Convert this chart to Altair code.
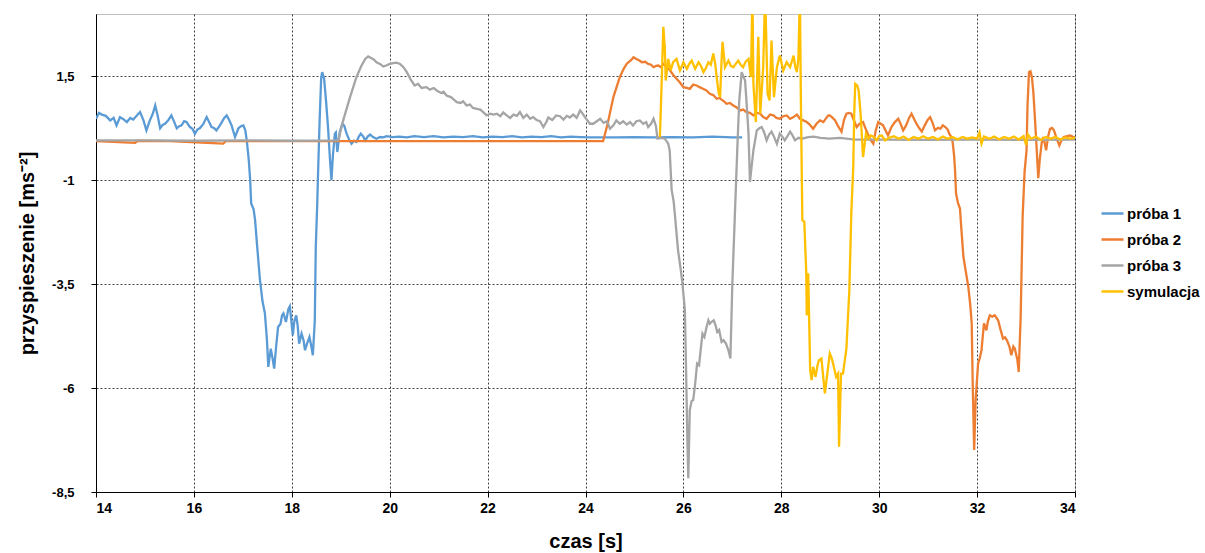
import altair as alt
import pandas as pd

names = ["próba 1", "próba 2", "próba 3", "symulacja"]
colors = ["#5B9BD5", "#ED7D31", "#A5A5A5", "#FFC000"]

t1 = [14.00,14.06,14.12,14.20,14.29,14.36,14.42,14.49,14.56,14.63,14.70,14.76,14.83,14.90,14.97,15.03,15.10,15.16,15.21,15.26,
      15.31,15.36,15.41,15.48,15.54,15.60,15.65,15.70,15.75,15.80,15.85,15.92,15.97,16.02,16.07,16.12,16.19,16.26,16.31,16.36,
      16.41,16.46,16.52,16.57,16.62,16.67,16.72,16.77,16.84,16.91,16.96,17.01,17.05,17.08,17.12,17.15,17.17,17.22,17.25,17.30,
      17.35,17.40,17.45,17.49,17.52,17.57,17.61,17.64,17.68,17.72,17.77,17.80,17.83,17.88,17.93,17.96,18.02,18.05,18.09,18.12,
      18.15,18.20,18.24,18.27,18.32,18.36,18.40,18.43,18.47,18.49,18.52,18.54,18.57,18.60,18.62,18.66,18.70,18.74,18.78,18.81,
      18.84,18.88,18.90,18.93,18.98,19.03,19.07,19.12,19.17,19.22,19.27,19.32,19.37,19.41,19.46,19.50,19.55,19.60,19.66,19.73,
      19.80,19.87,19.94,20.05,20.20,20.35,20.50,20.70,20.90,21.10,21.30,21.50,21.70,21.90,22.10,22.30,22.50,22.70,22.90,23.10,
      23.30,23.50,23.70,23.90,24.10,24.30,24.60,25.00,25.40,25.80,26.20,26.60,27.00,27.20]
v1 = [0.48,0.62,0.58,0.55,0.44,0.50,0.32,0.52,0.47,0.40,0.50,0.46,0.55,0.64,0.44,0.20,0.44,0.60,0.80,0.55,
      0.25,0.33,0.36,0.45,0.56,0.40,0.25,0.30,0.32,0.42,0.40,0.28,0.24,0.12,0.22,0.25,0.35,0.52,0.40,0.28,
      0.26,0.20,0.30,0.40,0.50,0.56,0.45,0.32,0.04,0.25,0.30,0.32,0.20,-0.04,-0.50,-1.00,-1.56,-1.70,-1.96,-2.70,
      -3.40,-3.90,-4.20,-4.80,-5.49,-5.05,-5.30,-5.53,-5.00,-4.53,-4.45,-4.25,-4.20,-4.41,-4.10,-4.03,-4.73,-4.40,-4.25,-4.50,
      -4.93,-4.69,-4.85,-5.09,-4.90,-4.77,-5.00,-5.21,-4.37,-2.60,-1.56,-0.68,0.50,1.45,1.60,1.45,0.90,0.28,-0.50,-1.00,
      -0.40,0.12,0.15,-0.32,0.17,0.35,0.32,0.12,-0.02,-0.12,-0.05,-0.08,0.05,0.12,0.05,-0.04,0.05,0.10,0.04,0.00,
      0.04,0.03,0.06,0.04,0.05,0.03,0.06,0.04,0.06,0.03,0.05,0.04,0.06,0.03,0.05,0.04,0.06,0.03,0.05,0.04,
      0.06,0.03,0.05,0.04,0.03,0.03,0.03,0.04,0.03,0.04,0.03,0.05,0.03,0.03]

t2 = [14.00,14.80,14.85,15.50,16.60,16.65,18.00,19.00,20.00,21.00,22.00,23.00,24.00,24.36,24.45,24.57,24.70,24.78,24.84,24.94,
      24.98,25.04,25.10,25.15,25.22,25.28,25.34,25.39,25.44,25.49,25.54,25.59,25.66,25.73,25.80,25.86,25.93,26.00,26.07,26.13,
      26.20,26.27,26.33,26.40,26.47,26.54,26.61,26.68,26.74,26.78,26.83,26.88,26.95,27.02,27.09,27.16,27.22,27.29,27.36,27.43,
      27.50,27.57,27.63,27.70,27.77,27.84,27.90,27.97,28.04,28.11,28.18,28.25,28.32,28.38,28.45,28.52,28.58,28.65,28.72,28.79,
      28.86,28.92,28.96,28.99,29.05,29.10,29.16,29.23,29.28,29.33,29.38,29.43,29.48,29.54,29.60,29.67,29.72,29.78,29.83,29.88,
      29.93,29.98,30.03,30.08,30.13,30.18,30.25,30.32,30.39,30.44,30.49,30.55,30.61,30.66,30.71,30.76,30.82,30.87,30.93,30.99,
      31.04,31.09,31.14,31.20,31.25,31.30,31.35,31.40,31.43,31.47,31.50,31.53,31.55,31.57,31.61,31.65,31.68,31.72,31.77,31.82,
      31.86,31.89,31.91,31.94,31.97,32.02,32.05,32.09,32.12,32.14,32.19,32.22,32.26,32.31,32.36,32.43,32.48,32.53,32.57,32.61,
      32.66,32.70,32.74,32.77,32.82,32.85,32.89,32.93,32.97,33.01,33.03,33.06,33.09,33.12,33.15,33.18,33.21,33.25,33.28,33.32,
      33.35,33.38,33.41,33.45,33.49,33.53,33.57,33.62,33.68,33.72,33.77,33.84,33.90,33.95,34.00]
v2 = [-0.06,-0.10,-0.05,-0.06,-0.12,-0.06,-0.06,-0.06,-0.06,-0.06,-0.06,-0.06,-0.06,-0.06,0.35,1.00,1.48,1.68,1.80,1.90,
      1.96,1.92,1.88,1.84,1.85,1.80,1.78,1.72,1.75,1.76,1.72,1.80,1.72,1.64,1.52,1.44,1.35,1.24,1.22,1.20,
      1.30,1.28,1.24,1.20,1.16,1.08,1.05,0.96,0.98,0.94,0.90,0.84,0.86,0.80,0.75,0.68,0.70,0.64,0.62,0.56,
      0.62,0.60,0.52,0.48,0.58,0.56,0.50,0.48,0.54,0.56,0.48,0.52,0.58,0.48,0.44,0.40,0.34,0.24,0.36,0.44,
      0.40,0.50,0.56,0.56,0.50,0.44,0.30,0.17,0.45,0.60,0.62,0.60,0.45,0.28,0.36,0.40,0.25,0.08,-0.04,-0.12,
      0.20,0.40,0.36,0.32,0.20,0.08,0.28,0.40,0.48,0.35,0.20,0.32,0.50,0.60,0.48,0.36,0.25,0.17,0.32,0.45,
      0.52,0.38,0.20,0.26,0.24,0.32,0.28,0.22,0.12,0.05,-0.08,-0.40,-0.76,-1.32,-1.55,-1.68,-2.20,-2.84,-3.20,-3.56,
      -4.00,-4.44,-5.88,-7.49,-6.29,-5.41,-5.30,-5.09,-4.70,-4.44,-4.61,-4.40,-4.25,-4.28,-4.25,-4.37,-4.60,-4.81,-4.78,-4.85,
      -5.00,-5.21,-5.00,-5.05,-5.30,-5.61,-4.29,-1.88,-0.80,-0.28,0.80,1.60,1.62,1.48,1.10,0.52,-0.10,-0.95,-0.50,-0.10,
      0.04,-0.10,-0.28,0.05,0.24,0.26,0.20,0.02,-0.16,-0.05,0.04,0.06,0.08,0.05,0.03]

t3 = [14.00,15.00,16.00,17.00,18.00,18.95,19.05,19.19,19.32,19.42,19.50,19.56,19.62,19.68,19.73,19.80,19.87,19.93,20.00,20.07,
      20.14,20.21,20.28,20.35,20.43,20.51,20.58,20.65,20.75,20.82,20.90,20.96,21.05,21.10,21.16,21.25,21.30,21.37,21.45,21.50,
      21.57,21.64,21.70,21.78,21.85,21.91,21.98,22.05,22.12,22.19,22.26,22.32,22.39,22.46,22.53,22.60,22.66,22.73,22.80,22.87,
      22.93,23.00,23.07,23.14,23.20,23.24,23.32,23.40,23.48,23.55,23.62,23.68,23.75,23.82,23.89,23.92,24.00,24.09,24.16,24.23,
      24.30,24.37,24.44,24.50,24.57,24.63,24.70,24.77,24.84,24.91,24.97,25.04,25.11,25.18,25.24,25.28,25.34,25.39,25.44,25.47,
      25.55,25.62,25.69,25.72,25.76,25.80,25.83,25.89,25.94,25.98,26.03,26.06,26.08,26.10,26.13,26.17,26.20,26.24,26.28,26.32,
      26.36,26.39,26.43,26.47,26.51,26.54,26.57,26.62,26.66,26.69,26.73,26.78,26.82,26.87,26.92,26.96,27.00,27.05,27.10,27.14,
      27.19,27.26,27.30,27.33,27.36,27.40,27.43,27.50,27.55,27.60,27.65,27.70,27.75,27.80,27.85,27.91,27.97,28.02,28.07,28.12,
      28.18,28.23,28.28,28.35,28.42,28.55,28.66,28.80,28.98,29.20,29.50,30.00,31.00,32.00,33.00,34.00]
v3 = [-0.04,-0.04,-0.05,-0.04,-0.05,-0.04,0.44,1.00,1.48,1.75,1.92,1.98,1.94,1.90,1.84,1.80,1.74,1.76,1.80,1.82,
      1.83,1.80,1.72,1.60,1.42,1.28,1.32,1.22,1.24,1.18,1.22,1.16,1.10,1.13,1.04,1.00,0.95,0.88,0.86,0.90,
      0.80,0.82,0.74,0.72,0.70,0.64,0.56,0.60,0.58,0.60,0.54,0.63,0.56,0.50,0.58,0.55,0.64,0.50,0.58,0.48,
      0.52,0.45,0.42,0.28,0.40,0.51,0.45,0.56,0.54,0.46,0.55,0.51,0.58,0.50,0.68,0.64,0.50,0.36,0.36,0.42,
      0.48,0.38,0.42,0.24,0.32,0.44,0.36,0.42,0.34,0.40,0.32,0.42,0.44,0.36,0.40,0.28,0.36,0.48,0.30,0.00,
      0.02,0.00,-0.12,-0.28,-1.24,-1.50,-1.88,-2.68,-3.10,-3.48,-4.12,-5.89,-7.20,-8.17,-6.53,-6.30,-6.29,-5.90,-5.41,-5.45,
      -5.00,-4.69,-4.77,-4.55,-4.37,-4.45,-4.41,-4.37,-4.50,-4.65,-4.60,-4.89,-4.85,-4.93,-5.09,-5.29,-3.48,-1.88,-0.28,0.90,
      1.60,1.40,0.70,0.12,-1.04,-0.60,-0.28,0.20,0.25,0.28,0.15,-0.04,0.10,0.17,0.05,-0.12,0.12,0.05,-0.04,0.05,
      0.17,0.08,-0.04,0.02,0.00,0.04,0.05,0.02,0.00,0.02,-0.02,-0.02,-0.03,-0.02,-0.03,-0.02]

t4 = [25.52,25.56,25.59,25.62,25.64,25.69,25.74,25.79,25.86,25.93,26.00,26.07,26.12,26.17,26.24,26.31,26.36,26.41,26.46,26.51,
      26.56,26.61,26.65,26.68,26.72,26.75,26.78,26.80,26.85,26.92,26.97,27.02,27.07,27.12,27.17,27.22,27.27,27.33,27.38,27.41,
      27.43,27.48,27.53,27.57,27.63,27.67,27.72,27.76,27.80,27.85,27.91,27.97,28.04,28.11,28.18,28.25,28.29,28.32,28.35,28.38,
      28.40,28.42,28.43,28.47,28.51,28.52,28.55,28.59,28.62,28.65,28.70,28.74,28.77,28.82,28.85,28.89,28.94,28.99,29.02,29.05,
      29.12,29.16,29.18,29.22,29.26,29.33,29.39,29.43,29.47,29.49,29.51,29.55,29.58,29.62,29.67,29.73,29.78,29.83,29.88,29.95,
      30.00,30.05,30.12,30.20,30.30,30.40,30.50,30.60,30.70,30.80,30.90,31.00,31.10,31.20,31.30,31.40,31.50,31.60,31.70,31.80,
      31.90,32.00,32.05,32.09,32.14,32.25,32.35,32.45,32.55,32.65,32.75,32.85,32.95,33.00,33.04,33.10,33.20,33.30,33.40,33.50,
      33.60,33.70,33.80,33.90,34.00]
v4 = [0.04,1.50,2.69,2.20,1.40,1.92,1.64,1.84,1.92,1.64,1.84,1.68,1.80,1.88,1.68,1.84,1.75,1.60,1.70,1.84,
      1.78,2.05,1.80,1.48,1.10,1.00,1.90,2.33,1.72,1.88,1.75,1.72,1.80,1.88,1.78,1.72,1.85,1.92,1.48,3.50,
      1.32,0.40,2.45,0.60,1.72,3.50,1.08,0.92,2.36,1.00,1.72,2.00,1.64,1.84,1.72,2.00,1.70,1.60,1.96,3.50,
      0.92,-1.00,-1.96,-2.00,-3.24,-4.25,-3.24,-5.57,-5.81,-5.49,-5.73,-5.45,-5.33,-5.29,-5.65,-6.13,-5.65,-5.17,-5.25,-5.37,
      -5.73,-5.65,-7.41,-5.65,-5.65,-5.05,-3.64,-1.80,-0.68,0.60,1.32,1.28,1.16,0.60,-0.44,0.12,0.00,0.08,0.05,-0.04,
      0.06,0.08,-0.04,0.02,0.06,0.00,0.05,-0.03,0.04,0.00,0.06,0.00,0.04,-0.02,0.05,0.00,0.04,-0.02,0.04,0.00,
      0.03,0.00,0.15,-0.12,0.05,0.00,0.05,-0.02,0.04,0.00,0.05,-0.02,0.06,-0.15,0.10,0.00,0.05,-0.03,0.04,0.00,
      0.04,-0.02,0.03,0.00,0.02]

series = [(names[0], t1, v1), (names[1], t2, v2), (names[2], t3, v3), (names[3], t4, v4)]

color_scale = alt.Scale(domain=names, range=colors)
legend = alt.Legend(
    title=None, orient="none", legendX=1004, legendY=187,
    symbolType="stroke", symbolSize=484, symbolStrokeWidth=2.5,
    labelFont="Liberation Sans", labelFontSize=15, labelFontWeight="bold",
    labelColor="#000000", rowPadding=5, labelOffset=2,
)

x_axis = alt.Axis(
    values=list(range(14, 35, 2)), title="czas [s]",
    titleFont="Liberation Sans", titleFontSize=20, titleFontWeight="bold", titleColor="#000",
    titleY=49, titleBaseline="middle",
    labelFont="Liberation Sans", labelFontSize=14, labelFontWeight="bold", labelColor="#000",
    labelPadding=4, tickSize=5, tickColor="#000", domainColor="#000", domainWidth=1,
    grid=True, gridColor="#000", gridDash=[2, 2], gridOpacity=0.75, gridWidth=1,
)
y_axis = alt.Axis(
    values=[-8.5, -6, -3.5, -1, 1.5], title="przyspieszenie [ms⁻²]",
    labelExpr="replace(toString(datum.value), '.', ',')",
    titleFont="Liberation Sans", titleFontSize=20, titleFontWeight="bold", titleColor="#000",
    titleX=-69, titleY=239, titleAngle=-90, titleAlign="center", titleBaseline="middle",
    labelFont="Liberation Sans", labelFontSize=13, labelFontWeight="bold", labelColor="#000",
    labelPadding=17, tickSize=5, tickColor="#000", domainColor="#000", domainWidth=1,
    grid=True, gridColor="#000", gridDash=[2, 2], gridOpacity=0.75, gridWidth=1,
)

layers = []
for name, ts, vs in series:
    df = pd.DataFrame({"t": ts, "a": vs, "seria": name})
    layers.append(
        alt.Chart(df).mark_line(strokeWidth=2.3, clip=True).encode(
            x=alt.X("t:Q", scale=alt.Scale(domain=[14, 34], nice=False, zero=False), axis=x_axis),
            y=alt.Y("a:Q", scale=alt.Scale(domain=[-8.5, 3.0], nice=False, zero=False), axis=y_axis),
            color=alt.Color("seria:N", scale=color_scale, legend=legend),
        )
    )

chart = alt.layer(*layers).properties(
    width=979, height=478,
    autosize=alt.AutoSizeParams(type="none"),
    padding={"left": 96, "top": 14, "right": 130, "bottom": 61},
    background="white",
).configure_view(stroke="#BFBFBF", strokeWidth=1)

chart.save("out.html", embed_options={"renderer": "svg", "actions": False})
